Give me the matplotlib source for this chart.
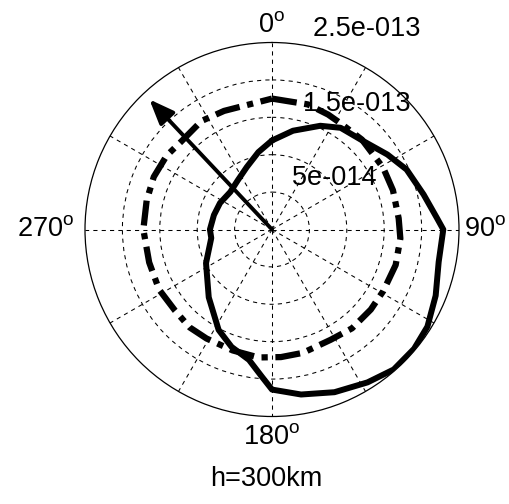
import numpy as np
import matplotlib
matplotlib.use('Agg')
import matplotlib.pyplot as plt

plt.rcParams['font.family'] = ['Liberation Sans', 'DejaVu Sans']
plt.rcParams['mathtext.fontset'] = 'custom'
plt.rcParams['mathtext.rm'] = 'Liberation Sans'
plt.rcParams['lines.scale_dashes'] = False

# ---- data (angles in compass degrees, radius values) ----
solid_deg = [0, 12, 25, 34, 46, 57, 66, 77, 86, 90, 101, 112, 122, 130, 139, 148,
             159, 170, 180, 184, 190, 199, 208, 223, 243, 262, 270, 284, 297, 312,
             325, 338, 350, 360]
solid_r = np.array([1.19, 1.35, 1.53, 1.64, 1.70, 1.84, 1.97, 2.08, 2.21, 2.29, 2.27,
                    2.36, 2.45, 2.48, 2.48, 2.41, 2.33, 2.24, 2.14, 1.97, 1.77, 1.66,
                    1.52, 1.24, 0.99, 0.82, 0.83, 0.80, 0.78, 0.75, 0.80, 0.90, 1.05,
                    1.19]) * 1e-13

dd_deg = [0, 16, 26, 33, 45, 61, 72, 85, 94, 106, 119, 129, 141, 152, 166, 176, 186,
          198, 211, 220, 230, 242, 255, 270, 283, 294, 305, 314, 327, 338, 350, 360]
dd_r = np.array([1.75, 1.74, 1.71, 1.69, 1.70, 1.70, 1.70, 1.70, 1.72, 1.72, 1.70,
                 1.70, 1.70, 1.67, 1.70, 1.71, 1.72, 1.70, 1.70, 1.71, 1.69, 1.71,
                 1.70, 1.72, 1.72, 1.73, 1.72, 1.69, 1.73, 1.71, 1.70, 1.75]) * 1e-13

arrow_deg = 316.7
arrow_r = 2.39e-13

rmax = 2.5e-13
ring_vals = [5e-14, 1e-13, 1.5e-13, 2e-13]
ring_labels = {5e-14: '5e-014', 1.5e-13: '1.5e-013', 2.5e-13: '2.5e-013'}
angle_labels = [(0, '0'), (90, '90'), (180, '180'), (270, '270')]
title = 'h=300km'

# ---- figure ----
W, H = 510, 504
fig = plt.figure(figsize=(W / 100, H / 100), dpi=100)
cx, cy, R = 272, 229.5, 187
ax = fig.add_axes([(cx - R) / W, (H - cy - R) / H, 2 * R / W, 2 * R / H],
                  projection='polar')
ax.set_theta_zero_location('N')
ax.set_theta_direction(-1)
ax.set_ylim(0, rmax)
ax.set_yticks(ring_vals)
ax.set_yticklabels([])
ax.set_xticks(np.deg2rad(np.arange(0, 360, 30)))
ax.set_xticklabels([])
ax.tick_params(length=0)
ax.grid(True, color='k', linestyle=(0, (3, 3)), linewidth=0.75)
ax.spines['polar'].set_linewidth(0.9)
ax.spines['polar'].set_color('k')

ax.plot(np.deg2rad(solid_deg), solid_r, color='k', lw=4.3,
        solid_joinstyle='round', solid_capstyle='round', zorder=3)
ax.plot(np.deg2rad(dd_deg), dd_r, color='k', lw=4.5,
        dashes=(18, 5.5, 4.5, 5.5), zorder=3)

ax.annotate('', xy=(np.deg2rad(arrow_deg), arrow_r), xytext=(0, 0),
            arrowprops=dict(arrowstyle='-|>,head_length=0.75,head_width=0.3',
                            mutation_scale=20, lw=2.8, color='k',
                            shrinkA=0, shrinkB=0), zorder=4)

fs = 19.5
rinc = 5e-14
for v, lab in ring_labels.items():
    ax.text(np.deg2rad(8), v + rinc / 20, '  ' + lab, ha='left', va='bottom',
            fontsize=fs, clip_on=False, zorder=5)

label_r = {0: 2.73e-13, 90: 2.85e-13, 180: 2.77e-13, 270: 3.03e-13}
for deg, lab in angle_labels:
    ax.text(np.deg2rad(deg), label_r[deg], lab + r'$^\mathrm{o}$', ha='center',
            va='center', fontsize=fs, clip_on=False)

fig.text(266 / W, 1 - 479 / H, title, ha='center', va='center', fontsize=fs)

fig.savefig('out.png', dpi=100, facecolor='white')
